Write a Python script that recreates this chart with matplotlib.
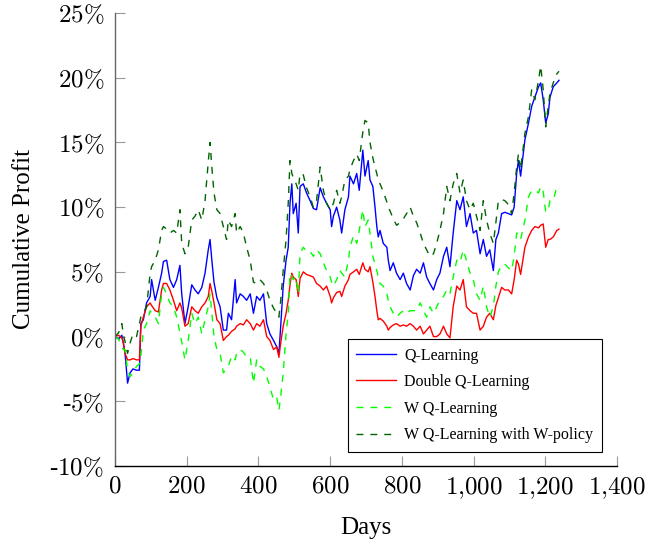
import matplotlib.pyplot as plt
from matplotlib.ticker import FuncFormatter

plt.rcParams['font.family'] = ['Liberation Serif', 'DejaVu Serif']
plt.rcParams['mathtext.fontset'] = 'cm'

days = [0, 10, 19, 23, 28, 35, 42, 50, 60, 68,
        72, 79, 88, 98, 102, 112, 121, 130, 135, 144,
        153, 163, 172, 181, 186, 195, 204, 214, 223, 232,
        242, 251, 260, 265, 270, 276, 284, 293, 302, 311,
        316, 325, 335, 339, 349, 358, 367, 377, 386, 395,
        404, 414, 423, 432, 442, 451, 457, 462, 469, 477,
        483, 488, 493, 497, 505, 511, 516, 525, 534, 544,
        553, 562, 572, 581, 590, 600, 604, 609, 618, 627,
        632, 641, 651, 655, 665, 674, 681, 691, 697, 706,
        711, 719, 725, 730, 734, 739, 748, 758, 762, 767,
        776, 785, 795, 804, 813, 823, 832, 841, 851, 860,
        869, 878, 888, 897, 906, 916, 925, 934, 943, 953,
        962, 971, 980, 990, 999, 1008, 1018, 1027, 1036, 1045,
        1055, 1062, 1069, 1078, 1087, 1097, 1106, 1113, 1120, 1125,
        1131, 1143, 1153, 1162, 1171, 1181, 1187, 1194, 1201, 1208,
        1213, 1222, 1232, 1238]

# cumulative profit in percent
q_learning = [0.0, -0.2, 0.1, -0.5, -1.3, -3.6, -2.8, -2.5, -2.6, -2.6,
              1.0, 1.3, 2.6, 3.1, 4.4, 2.8, 3.8, 4.9, 5.8, 5.9,
              4.4, 3.8, 4.4, 5.5, 3.3, 1.0, 2.3, 4.0, 3.6, 3.3,
              3.8, 4.9, 6.7, 7.5, 5.9, 4.2, 3.0, 2.3, 0.5, 0.5,
              1.8, 1.3, 4.4, 2.6, 3.3, 3.1, 2.8, 3.3, 1.8, 3.1,
              2.8, 3.3, 1.0, 0.2, -0.3, -0.8, -1.3, 0.8, 3.9, 5.9,
              6.9, 10.3, 11.8, 9.5, 10.3, 8.0, 11.6, 11.8, 11.1, 10.5,
              9.9, 9.8, 11.5, 10.8, 10.3, 9.8, 8.5, 9.3, 10.0, 9.0,
              8.0, 9.8, 10.8, 12.4, 11.8, 12.6, 11.3, 14.4, 12.4, 13.6,
              12.1, 11.6, 10.0, 8.5, 7.7, 8.2, 7.2, 6.9, 5.9, 5.1,
              5.7, 4.9, 4.4, 4.9, 4.1, 3.6, 4.7, 5.2, 4.9, 5.7,
              4.6, 4.1, 3.6, 4.4, 4.9, 6.2, 6.9, 5.4, 8.0, 10.5,
              9.8, 10.8, 8.5, 9.5, 8.0, 8.2, 6.4, 7.5, 6.2, 6.7,
              5.1, 7.5, 8.0, 9.5, 9.6, 9.5, 9.4, 10.0, 12.6, 13.6,
              12.4, 15.2, 16.5, 17.8, 18.5, 19.3, 19.6, 18.3, 16.5, 17.2,
              18.5, 19.3, 19.6, 19.8]

double_q = [0.0, 0.1, -0.1, -0.4, -1.3, -1.8, -1.8, -1.7, -1.8, -1.8,
            0.8, 1.5, 2.3, 2.6, 2.4, 2.0, 1.9, 3.6, 4.1, 4.1,
            3.6, 2.8, 2.0, 2.6, 2.2, 0.8, 1.0, 2.3, 2.0, 1.8,
            2.3, 2.6, 3.1, 4.1, 3.5, 2.6, 1.3, 1.0, -0.3, 0.0,
            0.1, 0.4, 0.6, 0.8, 1.0, 0.9, 1.3, 1.0, 0.5, 1.0,
            0.8, 1.3, 0.0, -0.3, -1.0, -0.8, -1.6, -0.5, 0.8, 1.8,
            2.8, 4.0, 4.9, 4.6, 4.4, 3.1, 4.5, 5.0, 4.8, 4.7,
            4.6, 4.1, 3.9, 3.6, 3.9, 3.1, 2.6, 3.0, 3.4, 3.5,
            3.1, 3.9, 4.4, 4.8, 5.0, 5.2, 4.8, 5.7, 5.2, 5.0,
            5.4, 4.2, 3.1, 2.0, 1.3, 1.4, 1.2, 0.8, 0.5, 0.7,
            0.9, 1.0, 0.8, 0.9, 0.8, 1.0, 0.8, 0.5, 0.8, 0.2,
            0.5, 0.8, 0.0, 0.0, 0.2, 0.8, 0.2, -0.1, 2.3, 3.9,
            3.6, 4.4, 2.3, 2.0, 1.8, 1.8, 0.5, 0.8, 1.5, 1.8,
            1.3, 2.4, 3.0, 3.8, 3.6, 3.6, 3.3, 4.4, 5.9, 5.6,
            4.8, 6.9, 7.7, 8.2, 8.5, 8.4, 8.6, 8.7, 6.9, 7.5,
            7.5, 7.7, 8.2, 8.3]

w_q = [0.0, -0.2, -0.8, -1.0, -1.0, -2.6, -3.1, -2.8, -2.3, -2.1,
       -1.5, 0.5, 1.0, 2.0, 1.8, 1.5, 1.0, 3.3, 3.8, 3.3,
       2.6, 2.3, 1.5, 0.3, -0.4, -1.8, -0.3, 1.8, 1.0, 1.5,
       0.2, 1.3, 2.3, 3.3, 1.8, 0.0, -1.0, -1.3, -2.8, -2.5,
       -2.3, -1.5, -1.8, -1.3, -1.0, -1.2, -1.6, -1.6, -3.6, -1.8,
       -2.3, -2.5, -3.1, -3.9, -4.9, -4.7, -5.7, -4.6, -2.8, 0.2,
       1.8, 4.9, 4.7, 4.4, 4.6, 3.3, 6.4, 6.9, 6.6, 6.6,
       6.2, 6.7, 6.4, 5.7, 5.1, 4.6, 4.2, 3.9, 4.4, 5.1,
       4.9, 4.6, 5.9, 6.9, 7.8, 7.2, 8.2, 9.8, 8.5, 9.0,
       8.0, 6.2, 5.6, 5.1, 4.6, 4.1, 3.9, 3.3, 2.8, 2.3,
       1.8, 1.5, 1.8, 2.0, 1.8, 2.0, 2.0, 2.0, 2.6, 2.0,
       1.5, 2.3, 1.8, 2.3, 2.8, 3.1, 3.6, 3.3, 4.6, 5.9,
       5.7, 6.7, 5.9, 4.9, 4.4, 3.3, 2.8, 3.9, 2.3, 1.5,
       2.3, 3.9, 5.0, 5.5, 5.6, 5.3, 5.1, 6.2, 8.0, 7.8,
       7.5, 9.0, 10.8, 11.3, 11.3, 11.1, 11.6, 11.2, 9.6, 9.8,
       10.5, 10.5, 11.6, 11.4]

w_q_policy = [0.0, 0.3, 1.0, 0.2, -0.4, -1.3, -0.5, 0.2, 0.0, 1.0,
              1.5, 1.8, 2.3, 4.9, 5.4, 5.9, 6.7, 8.2, 8.5, 8.3,
              8.0, 8.2, 8.0, 9.8, 7.2, 6.4, 6.9, 9.0, 9.3, 9.8,
              9.0, 10.5, 13.5, 15.0, 13.1, 11.1, 9.8, 9.5, 8.5, 7.5,
              9.0, 8.5, 9.5, 8.0, 8.5, 8.0, 6.9, 5.9, 4.2, 4.1,
              4.4, 4.1, 3.6, 2.8, 2.2, 1.8, 1.5, 2.8, 5.1, 7.5,
              10.3, 13.6, 12.6, 12.3, 11.8, 11.3, 12.6, 12.5, 11.5, 10.8,
              10.0, 10.5, 13.1, 11.3, 10.3, 9.8, 10.0, 10.3, 11.3, 10.3,
              10.8, 12.1, 12.4, 12.9, 13.6, 14.1, 13.6, 15.8, 16.7, 16.5,
              15.0, 13.8, 13.1, 12.6, 12.1, 11.8, 11.2, 10.4, 10.0, 9.7,
              9.1, 8.6, 8.8, 9.1, 9.5, 10.0, 9.3, 8.8, 8.0, 7.2,
              6.7, 6.2, 6.4, 7.2, 8.2, 9.5, 11.6, 10.5, 11.8, 12.6,
              11.1, 12.1, 10.5, 9.8, 10.3, 9.3, 8.2, 10.5, 9.0, 8.0,
              7.2, 8.8, 10.5, 10.6, 10.5, 10.2, 9.5, 11.1, 13.1, 14.1,
              12.9, 15.7, 17.0, 19.1, 18.3, 19.8, 20.9, 19.1, 16.2, 17.8,
              18.8, 19.6, 20.3, 20.5]

labels = ['Q-Learning', 'Double Q-Learning', 'W Q-Learning', 'W Q-Learning with W-policy']
colors = ['#0000ff', '#ff0000', '#00ff00', '#006400']
styles = ['-', '-', (0, (5, 5)), (0, (5, 5))]


def pct_label(v, pos):
    sign = '-' if v < 0 else ''
    return sign + r'$%d\%%$' % abs(v)


def day_label(v, pos):
    return r'$%s$' % f'{int(v):,}'.replace(',', '{,}')


fig = plt.figure(figsize=(6.58, 5.44), dpi=100)
ax = fig.add_axes([0.1748, 0.1434, 0.763, 0.8327])

for vals, lab, col, ls in zip([q_learning, double_q, w_q, w_q_policy], labels, colors, styles):
    ax.plot(days, vals, color=col, linestyle=ls, linewidth=1.0, label=lab)

ax.set_xlim(0, 1400)
ax.set_ylim(-10, 25)
ax.set_xticks(range(0, 1401, 200))
ax.set_yticks(range(-10, 26, 5))
ax.xaxis.set_major_formatter(FuncFormatter(day_label))
ax.yaxis.set_major_formatter(FuncFormatter(pct_label))
ax.tick_params(direction='in', length=7, width=0.8, color='#999999', labelsize=18)
ax.tick_params(axis='y', pad=8)
ax.tick_params(axis='x', pad=7)

for side in ['top', 'right']:
    ax.spines[side].set_visible(False)
ax.spines['left'].set_color('#666666')
ax.spines['left'].set_linewidth(1.0)
ax.spines['bottom'].set_linewidth(1.0)

ax.set_xlabel('Days', fontsize=18, labelpad=11)
ax.set_ylabel('Cumulative Profit', fontsize=18, labelpad=10)

leg = ax.legend(loc='lower right', bbox_to_anchor=(0.970, 0.031), borderaxespad=0,
                fontsize=11.5, fancybox=False, edgecolor='black', framealpha=1,
                handlelength=2.5, handletextpad=0.5, labelspacing=0.66, borderpad=0.55)
leg.get_frame().set_linewidth(0.8)

fig.savefig('out.png', dpi=100)
